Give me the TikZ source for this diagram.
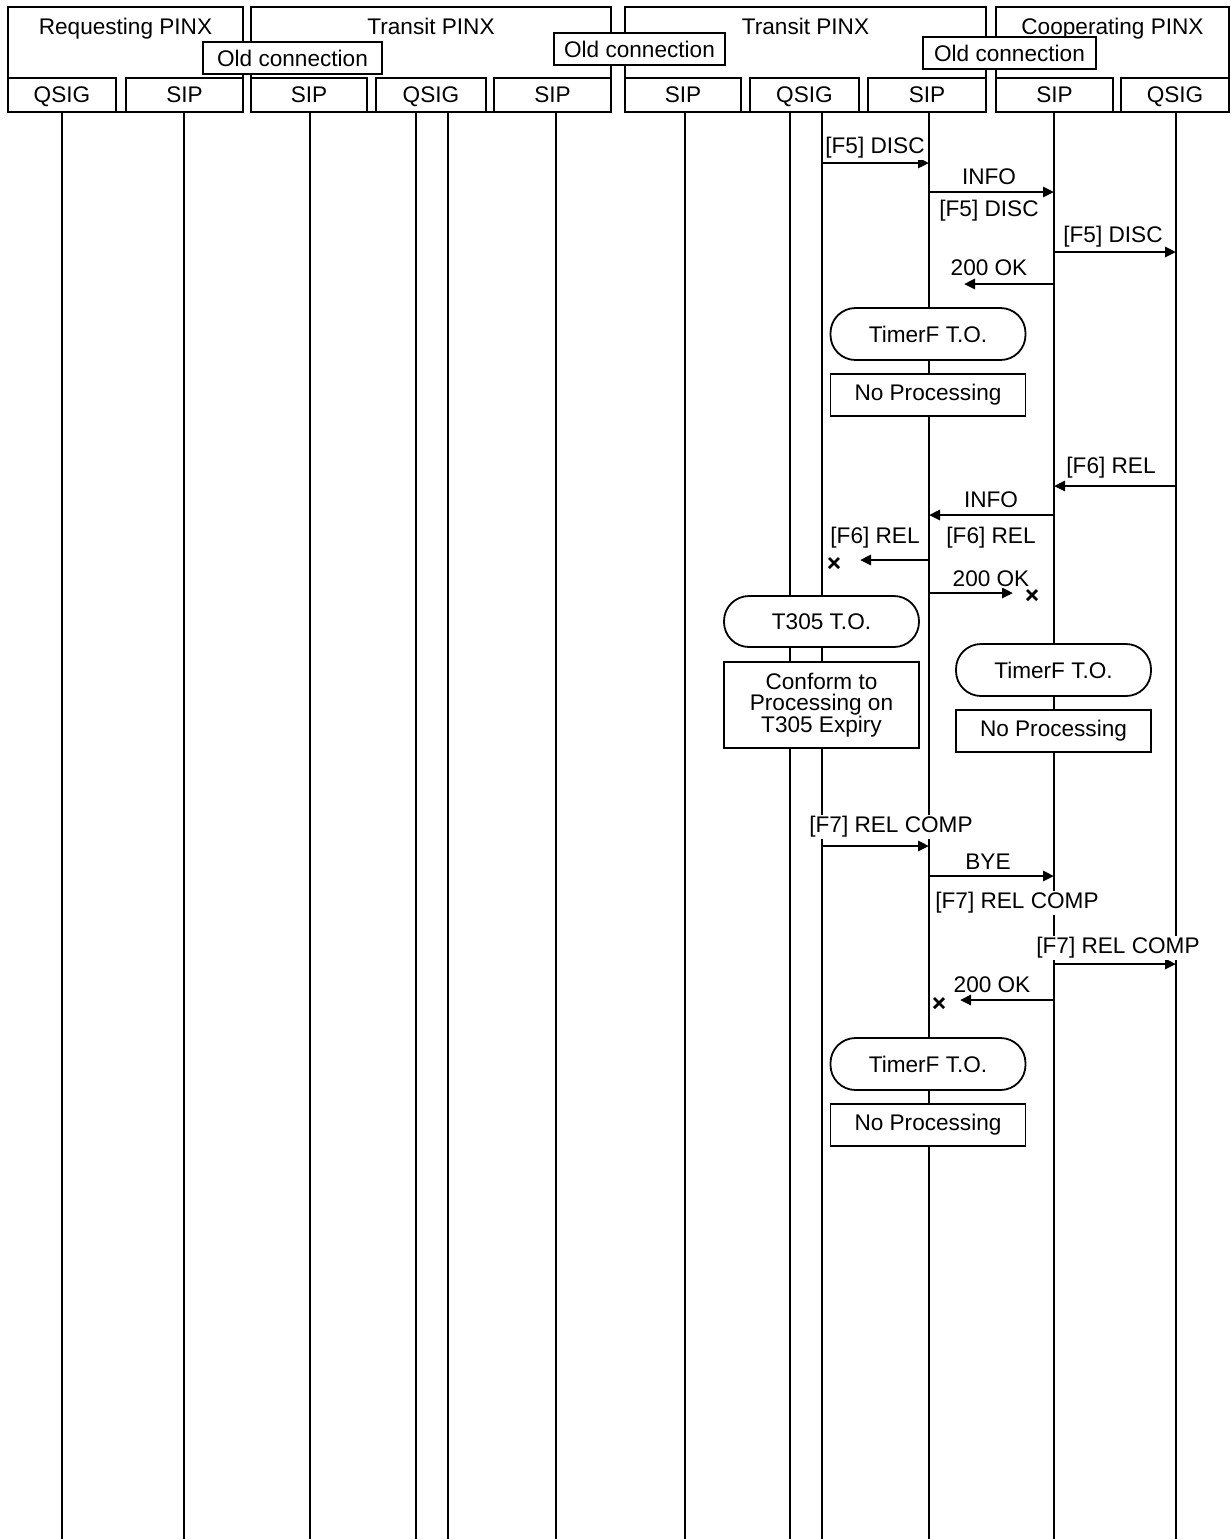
\documentclass[tikz,border=0pt]{standalone}
\usepackage{fontspec}
\setmainfont{Liberation Sans}
\usetikzlibrary{arrows.meta, positioning, shapes.misc}

\begin{document}
\begin{tikzpicture}[
  x=0.5pt, y=-0.5pt,
  every node/.style={font=\fontsize{11.3}{10.6}\selectfont},
  pinx/.style={draw, line width=1.1pt, fill=white, minimum height=52.5pt},
  side/.style={draw, line width=1.25pt, fill=white, minimum height=17pt, inner sep=0pt,
               text height=8.2pt, text depth=1pt},
  oldc/.style={draw, line width=0.9pt, fill=white, minimum width=89.5pt, minimum height=16pt, inner sep=0pt},
  life/.style={line width=1.1pt},
  msg/.style={-{Triangle[length=5.5pt, width=5pt]}, line width=1.3pt},
  lbl/.style={fill=white, inner sep=0.6pt, yshift=-1pt},
  timer/.style={draw, line width=0.9pt, fill=white, rounded corners=12.5pt,
                minimum width=97.5pt, minimum height=26pt},
  proc/.style={draw, line width=0.9pt, fill=white, minimum width=97.5pt,
               minimum height=21pt, align=center, inner sep=1pt},
  gone/.style={cross out, draw, line width=1.4pt, minimum size=3.6pt, inner sep=0pt},
]
  \useasboundingbox (0,0) rectangle (1231,1539);

  % life lines
  \foreach \n/\x in {rq/62, rs/184, as1/310, aqa/416, aqb/448, as2/556,
                     bs1/685, bqa/790, bqb/822, bs2/929, cs/1054, cq/1176} {
    \coordinate (\n-t) at (\x,112);
    \coordinate (\n-b) at (\x,1539);
    \draw[life] (\n-t) -- (\n-b);
  }

  % header
  \node[pinx, minimum width=117.5pt] (req) at (125.5,59.5) {};
  \node[pinx, minimum width=180pt] (tra) at (431,59.5) {};
  \node[pinx, minimum width=180.5pt] (trb) at (805.5,59.5) {};
  \node[pinx, minimum width=116.5pt] (coop) at (1112.5,59.5) {};
  \node[below=2.5pt of req.north] (reqL) {Requesting PINX};
  \node[below=2.5pt of tra.north] (traL) {Transit PINX};
  \node[below=2.5pt of trb.north] (trbL) {Transit PINX};
  \node[below=2.5pt of coop.north] (coopL) {Cooperating PINX};

  \node[side, minimum width=54pt] (reqQ) at (62,95) {QSIG};
  \node[side, minimum width=58.5pt] (reqS) at (184.5,95) {SIP};
  \node[side, minimum width=58pt] (traS1) at (309,95) {SIP};
  \node[side, minimum width=55pt] (traQ) at (431,95) {QSIG};
  \node[side, minimum width=58.5pt] (traS2) at (552.5,95) {SIP};
  \node[side, minimum width=58pt] (trbS1) at (683,95) {SIP};
  \node[side, minimum width=54.5pt] (trbQ) at (804.5,95) {QSIG};
  \node[side, minimum width=59pt] (trbS2) at (927,95) {SIP};
  \node[side, minimum width=58.5pt] (coopS) at (1054.5,95) {SIP};
  \node[side, minimum width=54pt] (coopQ) at (1175,95) {QSIG};

  \node[oldc] (old1) at (292.5,58) {Old connection};
  \node[oldc, minimum width=85.5pt] (old2) at (639.5,49) {Old connection};
  \node[oldc, minimum width=86.5pt] (old3) at (1009.5,53) {Old connection};

  % message rows
  \coordinate (r1) at (0,163);
  \coordinate (r2) at (0,192);
  \coordinate (r3) at (0,252);
  \coordinate (r4) at (0,284);
  \coordinate (r5) at (0,486);
  \coordinate (r6) at (0,515);
  \coordinate (r7) at (0,560);
  \coordinate (r8) at (0,593);
  \coordinate (r9) at (0,846);
  \coordinate (r10) at (0,876);
  \coordinate (r11) at (0,964);
  \coordinate (r12) at (0,1000);
  \coordinate (okA) at (964,284);
  \coordinate (relA) at (860,560);
  \coordinate (okB) at (1013,593);
  \coordinate (okC) at (960,1000);

  \draw[msg] (bqb-t |- r1) -- (bs2-t |- r1);
  \draw[msg] (bs2-t |- r2) -- (cs-t |- r2);
  \draw[msg] (cs-t |- r3) -- (cq-t |- r3);
  \draw[msg] (cs-t |- r4) -- (okA);
  \draw[msg] (cq-t |- r5) -- (cs-t |- r5);
  \draw[msg] (cs-t |- r6) -- (bs2-t |- r6);
  \draw[msg] (bs2-t |- r7) -- (relA);
  \draw[msg] (bs2-t |- r8) -- (okB);
  \draw[msg] (bqb-t |- r9) -- (bs2-t |- r9);
  \draw[msg] (bs2-t |- r10) -- (cs-t |- r10);
  \draw[msg] (cs-t |- r11) -- (cq-t |- r11);
  \draw[msg] (cs-t |- r12) -- (okC);

  \node[gone] (xA) at (834,563) {};
  \node[gone] (xB) at (1032,595) {};
  \node[gone] (xC) at (939,1003) {};

  % labels
  \node[lbl] (l1) at (875,146) {[F5] DISC};
  \node[lbl] (l2) at (989,175) {INFO};
  \node[lbl] (l2b) at (989,209) {[F5] DISC};
  \node[lbl] (l3) at (1113,235) {[F5] DISC};
  \node[lbl] (l4) at (989,266) {200 OK};
  \node[lbl] (l5) at (1111,466) {[F6] REL};
  \node[lbl] (l6) at (991,498) {INFO};
  \node[lbl] (l6b) at (991,536) {[F6] REL};
  \node[lbl] (l7) at (875,536) {[F6] REL};
  \node[lbl] (l8) at (991,577) {200 OK};
  \node[lbl] (l9) at (891,825) {[F7] REL COMP};
  \node[lbl] (l10) at (988,860) {BYE};
  \node[lbl] (l10b) at (1017,901) {[F7] REL COMP};
  \node[lbl] (l11) at (1118,946) {[F7] REL COMP};
  \node[lbl] (l12) at (992,983) {200 OK};

  % timers
  \node[timer] (tmA) at (928,334) {TimerF T.O.};
  \node[proc] (prA) at (928,395) {No Processing};
  \node[timer, minimum height=25.5pt] (t305) at (821.5,621.5) {T305 T.O.};
  \node[proc, minimum height=43pt] (prT) at (821.5,705) {Conform to\\Processing on\\T305 Expiry};
  \node[timer] (tmB) at (1053.5,670) {TimerF T.O.};
  \node[proc] (prB) at (1053.5,731) {No Processing};
  \node[timer] (tmC) at (928,1064) {TimerF T.O.};
  \node[proc] (prC) at (928,1125) {No Processing};
\end{tikzpicture}
\end{document}
